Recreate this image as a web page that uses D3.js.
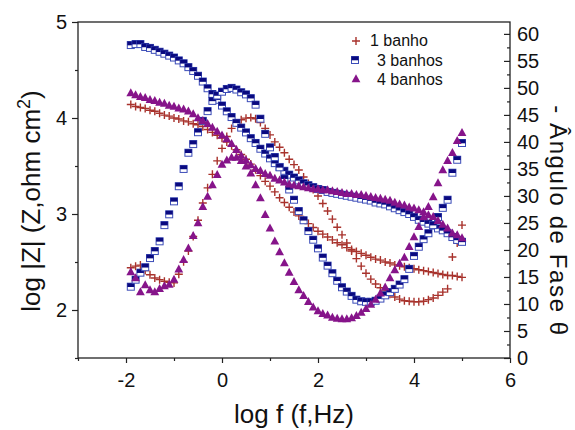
<!DOCTYPE html>
<html>
<head>
<meta charset="utf-8">
<script src="https://cdn.jsdelivr.net/npm/d3@7"></script>
<style>
  body { margin: 0; background: #fff; }
  svg { display: block; font-family: "Liberation Sans", Arial, sans-serif; }
</style>
</head>
<body>
<svg></svg>
<script>
// log f values (one point every 0.1 decade)
const logF = [-1.9,-1.8,-1.7,-1.6,-1.5,-1.4,-1.3,-1.2,-1.1,-1.0,
  -0.9,-0.8,-0.7,-0.6,-0.5,-0.4,-0.3,-0.2,-0.1,0.0,
  0.1,0.2,0.3,0.4,0.5,0.6,0.7,0.8,0.9,1.0,
  1.1,1.2,1.3,1.4,1.5,1.6,1.7,1.8,1.9,2.0,
  2.1,2.2,2.3,2.4,2.5,2.6,2.7,2.8,2.9,3.0,
  3.1,3.2,3.3,3.4,3.5,3.6,3.7,3.8,3.9,4.0,
  4.1,4.2,4.3,4.4,4.5,4.6,4.7,4.8,4.9,5.0];

// log |Z|
const z1banho = [4.14,4.12,4.11,4.10,4.08,4.07,4.05,4.03,4.02,4.00,
  3.99,3.97,3.96,3.94,3.93,3.91,3.88,3.85,3.82,3.79,
  3.75,3.71,3.67,3.62,3.57,3.52,3.46,3.40,3.34,3.29,
  3.23,3.17,3.12,3.07,3.02,2.98,2.94,2.90,2.86,2.82,
  2.79,2.76,2.73,2.70,2.68,2.65,2.63,2.61,2.59,2.57,
  2.55,2.53,2.52,2.50,2.49,2.47,2.46,2.45,2.44,2.43,
  2.42,2.41,2.40,2.39,2.38,2.37,2.36,2.36,2.35,2.34];
const z3banhos = [4.76,4.77,4.77,4.74,4.73,4.71,4.69,4.67,4.65,4.63,
  4.60,4.57,4.53,4.49,4.44,4.38,4.31,4.25,4.19,4.13,
  4.07,4.01,3.95,3.90,3.85,3.79,3.74,3.68,3.63,3.58,
  3.53,3.49,3.45,3.41,3.38,3.35,3.32,3.30,3.28,3.26,
  3.25,3.23,3.22,3.21,3.20,3.19,3.18,3.17,3.16,3.15,
  3.14,3.12,3.11,3.10,3.08,3.06,3.04,3.02,3.00,2.97,
  2.94,2.92,2.90,2.88,2.85,2.83,2.80,2.76,2.73,2.71];
const z4banhos = [4.26,4.24,4.22,4.21,4.19,4.18,4.16,4.15,4.13,4.12,
  4.10,4.09,4.07,4.04,4.00,3.97,3.94,3.90,3.86,3.82,
  3.78,3.73,3.67,3.61,3.56,3.51,3.47,3.45,3.42,3.40,
  3.37,3.35,3.33,3.31,3.30,3.29,3.28,3.27,3.26,3.26,
  3.25,3.25,3.24,3.23,3.22,3.21,3.21,3.20,3.20,3.19,
  3.18,3.17,3.16,3.15,3.14,3.12,3.10,3.09,3.07,3.06,
  3.04,3.02,2.99,2.97,2.93,2.89,2.85,2.80,2.78,2.75];

// - phase angle (degrees)
const p1banho = [16.7,17.0,17.2,16.2,15.4,14.8,14.5,14.2,14.0,13.9,
  15.5,17.8,19.8,22.5,25.5,28.7,31.5,34.0,36.5,38.8,
  41.0,42.5,43.5,44.1,44.4,44.5,44.3,43.6,42.5,41.3,
  40.0,39.0,38.0,36.8,35.8,34.8,33.5,32.3,31.2,30.0,
  28.6,27.2,25.7,24.2,22.8,21.3,19.8,18.4,17.0,15.7,
  14.6,13.7,13.0,12.4,11.8,11.3,10.9,10.6,10.5,10.4,
  10.4,10.5,10.8,11.1,11.6,12.2,12.8,18.7,21.3,24.6];
const p3banhos = [13.2,14.5,15.8,16.8,18.5,19.8,21.6,24.6,26.6,29.0,
  31.8,35.0,38.0,39.6,41.8,43.9,45.7,47.6,48.6,49.3,
  49.8,50.0,49.7,49.2,48.8,48.1,46.9,44.3,41.5,39.0,
  37.2,35.3,33.2,31.2,29.3,27.2,25.5,23.5,21.9,20.3,
  18.6,17.1,15.7,14.3,13.1,12.3,11.5,10.8,10.5,10.4,
  10.4,10.6,11.0,11.6,12.2,12.8,13.6,14.6,16.5,18.9,
  20.6,22.0,23.1,24.6,26.1,27.8,29.3,34.3,36.7,39.8];
const p4banhos = [15.9,14.8,12.2,13.5,12.6,12.2,12.8,13.3,13.6,14.5,
  16.4,18.2,20.3,22.6,25.0,28.0,29.9,32.0,33.9,35.8,
  36.6,37.1,37.1,36.5,35.5,34.2,32.0,29.6,26.5,24.0,
  21.6,19.6,17.6,15.8,14.1,12.6,11.5,10.4,9.4,8.7,
  8.2,7.9,7.5,7.3,7.2,7.2,7.4,7.8,8.4,9.1,
  9.9,10.8,12.0,13.1,14.8,16.3,17.5,18.6,20.6,22.4,
  24.3,26.1,28.0,29.8,32.4,34.8,36.5,38.0,40.2,41.7];

const seriesNames = ["1 banho", "3 banhos", "4 banhos"];

const width = 575;
const height = 430;
const plotLeft = 78, plotRight = 510, plotTop = 22, plotBottom = 358;

const svg = d3.select("svg").attr("width", width).attr("height", height);

const xScale = d3.scaleLinear().domain([-3, 6]).range([plotLeft, plotRight]);
const yZ = d3.scaleLinear().domain([1.5, 5]).range([plotBottom, plotTop]);
const yP = d3.scaleLinear().domain([0, 62.2]).range([plotBottom, plotTop]);

const axisColor = "#222";
const plainFormat = (d) => String(d);

// markers
const drawPlus = (g, x, y) => {
  g.append("path")
    .attr("d", `M${x - 4},${y}H${x + 4}M${x},${y - 4}V${y + 4}`)
    .attr("stroke", "#a8322c").attr("stroke-width", 1.4).attr("fill", "none");
};
const drawSquare = (g, x, y) => {
  g.append("rect").attr("x", x - 3.5).attr("y", y - 3.5).attr("width", 7).attr("height", 7)
    .attr("fill", "#fff").attr("stroke", "#3b4cb8").attr("stroke-width", 1);
  g.append("rect").attr("x", x - 3.5).attr("y", y - 3.5).attr("width", 7).attr("height", 3.8)
    .attr("fill", "#0a0a80");
};
const drawTriangle = (g, x, y) => {
  g.append("path")
    .attr("d", `M${x},${y - 4.8}L${x + 4.4},${y + 3.2}L${x - 4.4},${y + 3.2}Z`)
    .attr("fill", "#86148a");
};

const plot = svg.append("g");

const drawSeries = (values, yScale, marker) => {
  values.forEach((v, i) => marker(plot, xScale(logF[i]), yScale(v)));
};

drawSeries(z1banho, yZ, drawPlus);
drawSeries(p1banho, yP, drawPlus);
drawSeries(z3banhos, yZ, drawSquare);
drawSeries(p3banhos, yP, drawSquare);
drawSeries(z4banhos, yZ, drawTriangle);
drawSeries(p4banhos, yP, drawTriangle);

// axes
svg.append("g")
  .attr("transform", "translate(0," + plotBottom + ")")
  .call(d3.axisBottom(xScale).tickValues([-2, 0, 2, 4, 6]).tickSize(5).tickPadding(10).tickFormat(plainFormat));
svg.append("g")
  .attr("transform", "translate(0," + plotBottom + ")")
  .call(d3.axisBottom(xScale).tickValues([-3, -1, 1, 3, 5]).tickSize(3).tickFormat(""));

svg.append("g")
  .attr("transform", "translate(" + plotLeft + ",0)")
  .call(d3.axisLeft(yZ).tickValues([2, 3, 4, 5]).tickSize(6).tickPadding(5).tickFormat(plainFormat));
svg.append("g")
  .attr("transform", "translate(" + plotLeft + ",0)")
  .call(d3.axisLeft(yZ).tickValues([1.5, 2.5, 3.5, 4.5]).tickSize(3).tickFormat(""));

svg.append("g")
  .attr("transform", "translate(" + plotRight + ",0)")
  .call(d3.axisRight(yP).tickValues(d3.range(0, 61, 5)).tickSizeInner(-6).tickSizeOuter(0).tickPadding(7).tickFormat(plainFormat));
svg.append("g")
  .attr("transform", "translate(" + plotRight + ",0)")
  .call(d3.axisRight(yP).tickValues(d3.range(2.5, 61, 5)).tickSizeInner(-3).tickSizeOuter(0).tickFormat(""));

svg.selectAll(".domain").remove();
svg.selectAll(".tick line").attr("stroke", axisColor).attr("stroke-width", 1.2);
svg.selectAll(".tick text").attr("font-size", 20).attr("fill", "#111")
  .attr("font-family", "'Liberation Sans', Arial, sans-serif");

// frame
svg.append("rect")
  .attr("x", plotLeft).attr("y", plotTop)
  .attr("width", plotRight - plotLeft).attr("height", plotBottom - plotTop)
  .attr("fill", "none").attr("stroke", axisColor).attr("stroke-width", 1.3);

// axis titles
svg.append("text")
  .attr("x", 294).attr("y", 423)
  .attr("text-anchor", "middle").attr("font-size", 26).attr("fill", "#111")
  .text("log f (f,Hz)");

const yTitle = svg.append("text")
  .attr("transform", "translate(40,201) rotate(-90)")
  .attr("text-anchor", "middle").attr("font-size", 26).attr("fill", "#111");
yTitle.append("tspan").text("log |Z| (Z,ohm cm");
yTitle.append("tspan").attr("font-size", 18).attr("dy", -10).text("2");
yTitle.append("tspan").attr("dy", 10).text(")");

svg.append("text")
  .attr("transform", "translate(550,221) rotate(90)")
  .attr("text-anchor", "middle").attr("font-size", 24).attr("letter-spacing", 1.6)
  .attr("fill", "#111")
  .text("- \u00c2ngulo de Fase \u03b8");

// legend
const legend = svg.append("g");
const legendRows = [
  { name: seriesNames[0], marker: drawPlus, mx: 356, my: 41, tx: 370, ty: 46 },
  { name: seriesNames[1], marker: drawSquare, mx: 355, my: 60, tx: 377, ty: 66 },
  { name: seriesNames[2], marker: drawTriangle, mx: 356, my: 79, tx: 377, ty: 85 }
];
legendRows.forEach((r) => {
  r.marker(legend, r.mx, r.my);
  legend.append("text").attr("x", r.tx).attr("y", r.ty)
    .attr("font-size", 16).attr("fill", "#111").text(r.name);
});
</script>
</body>
</html>
